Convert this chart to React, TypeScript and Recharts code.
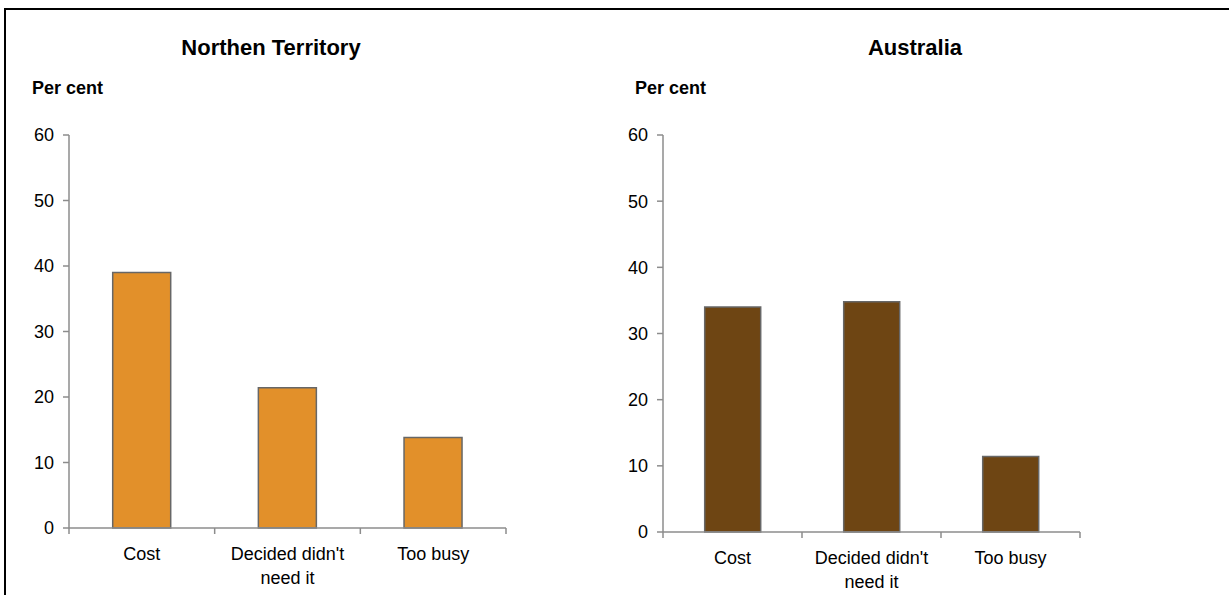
import React from "react";
import { BarChart, Bar, XAxis, YAxis, Text } from "recharts";

const categories = ["Cost", "Decided didn't need it", "Too busy"];
const ntValues = [39, 21.4, 13.8];
const ausValues = [34, 34.8, 11.4];
const yTicks = [0, 10, 20, 30, 40, 50, 60];

const ntData = categories.map((name, i) => ({ name, value: ntValues[i] }));
const ausData = categories.map((name, i) => ({ name, value: ausValues[i] }));

const FONT = '"Liberation Sans", Arial, sans-serif';
const AXIS = "#8c8c8c";

// category label plus the Excel-style tick marks on the band edges
function CategoryTick(props: any) {
  const { x, y, payload, index } = props;
  const half = payload && payload.offset ? payload.offset : 70;
  return (
    <g>
      {index === 0 && (
        <line x1={x - half} x2={x - half} y1={y} y2={y + 6} stroke={AXIS} strokeWidth={1.5} />
      )}
      <line x1={x + half} x2={x + half} y1={y} y2={y + 6} stroke={AXIS} strokeWidth={1.5} />
      <Text
        x={x}
        y={y + 19}
        width={half * 2 - 10}
        textAnchor="middle"
        verticalAnchor="start"
        lineHeight={24}
        fontSize={18}
        fontFamily={FONT}
        style={{ fontSize: 18, fontFamily: FONT }}
        fill="#000"
      >
        {payload.value}
      </Text>
    </g>
  );
}

function Panel(props: { data: any[]; fill: string; margin: any; width: number }) {
  return (
    <BarChart
      width={props.width}
      height={595}
      data={props.data}
      margin={props.margin}
      barCategoryGap="30%"
    >
      <XAxis
        dataKey="name"
        height={60}
        tickLine={false}
        tickSize={0}
        tickMargin={0}
        interval={0}
        axisLine={{ stroke: AXIS, strokeWidth: 1.5 }}
        tick={<CategoryTick />}
      />
      <YAxis
        width={50}
        domain={[0, 60]}
        ticks={yTicks}
        interval={0}
        tickSize={6}
        tickMargin={9}
        axisLine={{ stroke: AXIS, strokeWidth: 1.5 }}
        tickLine={{ stroke: AXIS, strokeWidth: 1.5 }}
        tick={{ fill: "#000", fontSize: 18, fontFamily: FONT }}
      />
      <Bar
        dataKey="value"
        fill={props.fill}
        stroke="#676767"
        strokeWidth={1.5}
        isAnimationActive={false}
      />
    </BarChart>
  );
}

export default function App() {
  return (
    <div
      style={{
        position: "absolute",
        left: 0,
        top: 0,
        width: 1229,
        height: 595,
        background: "#fff",
        fontFamily: FONT,
        overflow: "hidden",
      }}
    >
      <div style={{ position: "absolute", left: 0, top: 0 }}>
        <Panel
          width={600}
          data={ntData}
          fill="#E2902A"
          margin={{ top: 135, right: 94, bottom: 7, left: 19 }}
        />
      </div>
      <div style={{ position: "absolute", left: 600, top: 0 }}>
        <Panel
          width={629}
          data={ausData}
          fill="#6E4513"
          margin={{ top: 135, right: 149, bottom: 3, left: 13 }}
        />
      </div>
      <svg
        width={1229}
        height={595}
        style={{ position: "absolute", left: 0, top: 0, pointerEvents: "none" }}
      >
        <line x1={4} x2={1229} y1={9} y2={9} stroke="#000" strokeWidth={2} />
        <line x1={5} x2={5} y1={8} y2={595} stroke="#000" strokeWidth={2} />
        <g fontFamily={FONT} fontWeight="bold" fill="#000">
          <text x={271} y={55} textAnchor="middle" fontSize={22}>
            Northen Territory
          </text>
          <text x={915} y={55} textAnchor="middle" fontSize={22}>
            Australia
          </text>
          <text x={32} y={94} fontSize={18}>
            Per cent
          </text>
          <text x={635} y={94} fontSize={18}>
            Per cent
          </text>
        </g>
      </svg>
    </div>
  );
}
